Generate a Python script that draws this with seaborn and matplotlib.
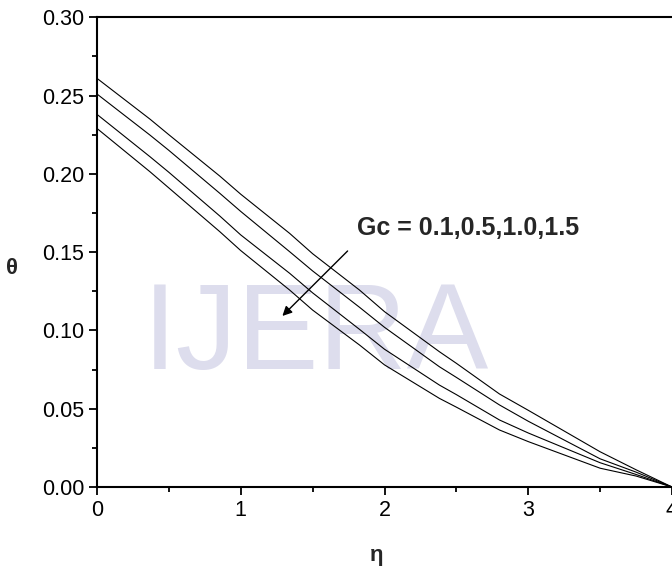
import numpy as np
import pandas as pd
import matplotlib
matplotlib.use("Agg")
import matplotlib.pyplot as plt
from matplotlib.ticker import MultipleLocator
import seaborn as sns

# values
eta = [0.0, 0.368, 0.5, 0.854, 1.0, 1.34, 1.5, 1.826, 2.0, 2.382, 2.5, 2.8, 3.0, 3.5, 3.75, 4.0]
gc_values = ["0.1", "0.5", "1.0", "1.5"]
theta_gc01 = [0.261, 0.235, 0.225, 0.1986, 0.187, 0.162, 0.149, 0.1258, 0.112, 0.0864, 0.079, 0.0594, 0.049, 0.0225, 0.011, 0.0]
theta_gc05 = [0.251, 0.2248, 0.215, 0.1876, 0.176, 0.1503, 0.138, 0.1148, 0.102, 0.0768, 0.070, 0.0524, 0.042, 0.018, 0.0095, 0.0]
theta_gc10 = [0.238, 0.211, 0.201, 0.1731, 0.161, 0.1365, 0.124, 0.1007, 0.088, 0.0651, 0.059, 0.0428, 0.0345, 0.0155, 0.008, 0.0]
theta_gc15 = [0.229, 0.2014, 0.191, 0.1631, 0.151, 0.1258, 0.113, 0.0907, 0.078, 0.0566, 0.051, 0.0364, 0.029, 0.012, 0.007, 0.0]

curves = [theta_gc01, theta_gc05, theta_gc10, theta_gc15]
df = pd.concat(
    [pd.DataFrame({"eta": eta, "theta": c, "Gc": g}) for g, c in zip(gc_values, curves)],
    ignore_index=True,
)

sns.set_theme(style="ticks")
plt.rcParams["font.family"] = ["Liberation Sans", "DejaVu Sans"]

fig = plt.figure(figsize=(6.72, 5.71), dpi=100)
ax = fig.add_axes([97 / 672, 84 / 571, 575 / 672, 469.7 / 571])

# faint watermark behind the curves
ax.text(1.52, 0.096, "IJERA", fontsize=88, color="#dddded",
        ha="center", va="center", zorder=0)

sns.lineplot(
    data=df, x="eta", y="theta", hue="Gc",
    palette=["black"] * 4, linewidth=0.8, legend=False, ax=ax, zorder=3,
)

ax.set_xlim(0, 4)
ax.set_ylim(0, 0.30)
ax.xaxis.set_major_locator(MultipleLocator(1))
ax.xaxis.set_minor_locator(MultipleLocator(0.5))
ax.yaxis.set_major_locator(MultipleLocator(0.05))
ax.yaxis.set_minor_locator(MultipleLocator(0.025))
ax.set_yticks(np.arange(0, 0.301, 0.05))
ax.set_yticklabels([f"{v:.2f}" for v in np.arange(0, 0.301, 0.05)])

ax.tick_params(which="major", direction="out", length=6, width=1.3, labelsize=15.5,
               color="black", labelcolor="black", pad=3)
ax.tick_params(which="minor", direction="out", length=3.5, width=1.3, color="black")

for s in ["left", "bottom", "top"]:
    ax.spines[s].set_linewidth(1.5)
    ax.spines[s].set_color("black")
ax.spines["right"].set_visible(False)

ax.set_xlabel("η", fontsize=16, fontweight="bold", va="center")
ax.set_ylabel("θ", fontsize=16, fontweight="bold", rotation=0, va="center", ha="center")
ax.xaxis.set_label_coords(0.487, -0.145)
ax.yaxis.set_label_coords(-0.148, 0.466)

ax.annotate(
    "", xy=(1.276, 0.108), xytext=(1.757, 0.152),
    arrowprops=dict(arrowstyle="-|>", color="black", lw=1.0, mutation_scale=14),
)
ax.text(1.806, 0.1654, "Gc = 0.1,0.5,1.0,1.5", fontsize=18, fontweight="bold",
        ha="left", va="center")

fig.savefig("out.png", dpi=100)
